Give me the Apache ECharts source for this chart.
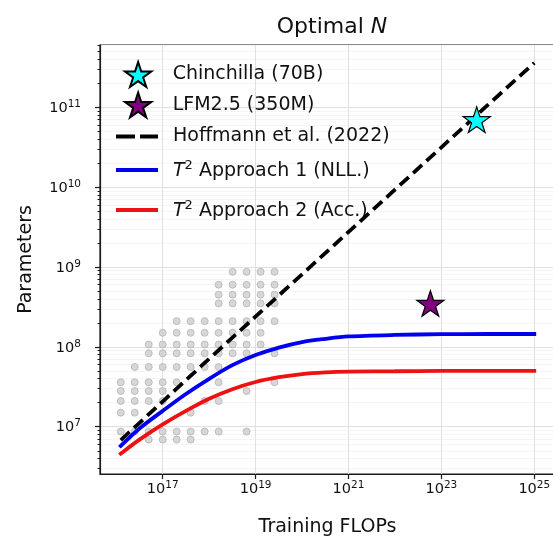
<!DOCTYPE html>
<html>
<head>
<meta charset="utf-8">
<script src="https://cdn.jsdelivr.net/npm/echarts@6/dist/echarts.min.js"></script>
<style>
  html, body { margin: 0; padding: 0; background: #ffffff; }
  #chart { width: 553px; height: 541px; }
</style>
</head>
<body>
<div id="chart"></div>
<script>
// ---------------- data (real units) ----------------
// grey dots: model sizes (parameters) and the training budgets (FLOPs) used for each size
const runSizes = [8.7e8, 6.0e8, 4.5e8, 3.5e8, 2.1e8, 1.5e8, 1.07e8, 8.3e7, 5.6e7, 3.6e7, 2.8e7, 2.1e7, 1.5e7, 8.7e6, 6.9e6];
const runBudgets = [
  [3.2e18, 6.4e18, 1.28e19, 2.56e19],
  [1.6e18, 3.2e18, 6.4e18, 1.28e19, 2.56e19],
  [1.6e18, 3.2e18, 6.4e18, 1.28e19, 2.56e19],
  [1.6e18, 3.2e18, 6.4e18, 1.28e19, 2.56e19],
  [2e17, 4e17, 8e17, 1.6e18, 3.2e18, 6.4e18, 1.28e19, 2.56e19],
  [1e17, 2e17, 4e17, 8e17, 1.6e18, 3.2e18, 6.4e18, 1.28e19],
  [5e16, 1e17, 2e17, 4e17, 8e17, 1.6e18, 3.2e18, 6.4e18, 1.28e19],
  [5e16, 1e17, 2e17, 4e17, 8e17, 1.6e18, 3.2e18, 6.4e18, 2.56e19],
  [2.5e16, 5e16, 1e17, 2e17, 4e17, 8e17, 1.6e18],
  [1.25e16, 2.5e16, 5e16, 1e17, 2e17, 1.6e18, 2.56e19],
  [1.25e16, 2.5e16, 5e16, 1e17, 6.4e18],
  [1.25e16, 2.5e16, 5e16, 1e17, 8e17, 1.6e18],
  [1.25e16, 2.5e16, 4e17],
  [1.25e16, 2.5e16, 5e16, 1e17, 2e17, 4e17, 8e17, 1.6e18, 6.4e18],
  [5e16, 1e17, 2e17, 4e17]
];

// fitted curves
const curveFlops      = [1.25e16, 3.16e16, 1e17, 3.16e17, 1e18, 3.16e18, 1e19, 3.16e19, 1e20, 3.16e20, 1e21, 1e22, 1e23, 1e24, 1e25];
const approach1Params = [5.75e6, 9.5e6, 1.58e7, 2.57e7, 3.98e7, 5.9e7, 7.9e7, 9.8e7, 1.15e8, 1.26e8, 1.35e8, 1.41e8, 1.44e8, 1.45e8, 1.45e8];
const approach2Params = [4.6e6, 6.9e6, 1.07e7, 1.58e7, 2.24e7, 2.95e7, 3.63e7, 4.17e7, 4.57e7, 4.79e7, 4.9e7, 4.95e7, 5.0e7, 5.0e7, 5.0e7];

const hoffmannFlops  = [1.25e16, 1e18, 1e20, 1e22, 1e24, 1e25];
const hoffmannParams = [6.8e6, 7.1e7, 8.1e8, 9.3e9, 1.07e11, 3.6e11];

const chinchilla = [5.76e23, 7.0e10];
const lfm = [5.8e22, 3.5e8];

// tick labels
const xTickValues = [1e17, 1e19, 1e21, 1e23, 1e25];
const yTickValues = [1e7, 1e8, 1e9, 1e10, 1e11];

// ---------------- helpers ----------------
const L = Math.log10;
const FONT = 'DejaVu Sans';
const xMin = 15.65, xMax = 25.446;
const yMin = 6.408, yMax = 11.78;

const runPoints = [];
runSizes.forEach((n, i) => runBudgets[i].forEach(c => runPoints.push([L(c), L(n)])));

const yMinor = [];
for (let e = 6; e <= 11; e++) {
  for (let k = 2; k <= 9; k++) {
    const v = L(k) + e;
    if (v > yMin && v < yMax) yMinor.push(v);
  }
}

const tickRich = {
  b: { fontSize: 14.5, fontFamily: FONT, color: '#111', lineHeight: 17, padding: [4, 0, 0, 0], verticalAlign: 'bottom' },
  s: { fontSize: 10.5, fontFamily: FONT, color: '#111', lineHeight: 12, verticalAlign: 'top' }
};
const powFmt = v => '{b|10}{s|' + Math.round(v) + '}';

const STAR = 'path://M50,0 L61.23,34.55 L97.55,34.55 L68.17,55.9 L79.39,90.45 L50,69.1 L20.61,90.45 L31.83,55.9 L2.45,34.55 L38.77,34.55 Z';

const legendText = {
  fontSize: 19, fontFamily: FONT, color: '#111', fontWeight: 'normal',
  rich: {
    it: { fontSize: 19, fontFamily: FONT, fontStyle: 'italic', color: '#111', lineHeight: 22, verticalAlign: 'bottom', padding: [4, 0, 0, 0] },
    sup: { fontSize: 13, fontFamily: FONT, color: '#111', lineHeight: 14, verticalAlign: 'top' },
    t: { fontSize: 19, fontFamily: FONT, color: '#111', lineHeight: 22, verticalAlign: 'bottom', padding: [4, 0, 0, 0] }
  }
};
const mkLegend = (name, extra) => Object.assign({
  orient: 'horizontal', padding: 0, itemWidth: 42, selectedMode: false, data: [name],
  textStyle: Object.assign({}, legendText, { padding: [0, 0, 0, 10] })
}, extra);
const t2fmt = name => '{it|T}{sup|2}{t| ' + name.replace('T² ', '') + '}';

const option = {
  animation: false,
  backgroundColor: '#ffffff',
  title: {
    text: '{a|Optimal }{b|N}',
    left: 327, top: 11, textAlign: 'center',
    textStyle: {
      fontWeight: 'normal',
      rich: {
        a: { fontSize: 22, fontFamily: FONT, color: '#111', fontWeight: 'normal' },
        b: { fontSize: 22, fontFamily: FONT, color: '#111', fontStyle: 'italic', fontWeight: 'normal' }
      }
    }
  },
  grid: {
    left: 100, top: 45, width: 455, height: 429, outerBoundsMode: 'none', containLabel: false,
    show: true, borderColor: '#1a1a1a', borderWidth: 1.2, backgroundColor: 'transparent'
  },
  legend: [
    mkLegend('Chinchilla (70B)', { left: 124, top: 61, itemHeight: 25, itemWidth: 27, textStyle: Object.assign({}, legendText, { padding: [0, 0, 0, 16] }) }),
    mkLegend('LFM2.5 (350M)', { left: 124, top: 91.5, itemHeight: 25, itemWidth: 27, textStyle: Object.assign({}, legendText, { padding: [0, 0, 0, 16] }) }),
    mkLegend('Hoffmann et al. (2022)', { left: 116, top: 127, itemHeight: 4, icon: 'path://M0,0H19V4H0Z M24,0H42V4H24Z' }),
    mkLegend('T² Approach 1 (NLL.)', { left: 116, top: 158, itemHeight: 4, icon: 'rect', formatter: t2fmt }),
    mkLegend('T² Approach 2 (Acc.)', { left: 116, top: 198, itemHeight: 4, icon: 'rect', formatter: t2fmt })
  ],
  xAxis: {
    type: 'value', min: xMin, max: xMax,
    name: 'Training FLOPs', nameLocation: 'middle', nameGap: 44,
    nameTextStyle: { fontSize: 19, fontFamily: FONT, color: '#111' },
    axisLine: { show: true, onZero: false, lineStyle: { color: '#1a1a1a', width: 1.2 } },
    axisTick: { show: true, length: 5, customValues: xTickValues.map(L), lineStyle: { color: '#1a1a1a', width: 1.2 } },
    axisLabel: { customValues: xTickValues.map(L), margin: 6, formatter: powFmt, rich: tickRich },
    splitLine: { show: true, lineStyle: { color: '#e0e0e0', width: 1 } }
  },
  yAxis: [
    {
      type: 'value', min: yMin, max: yMax, position: 'left',
      name: 'Parameters', nameLocation: 'middle', nameGap: 64,
      nameTextStyle: { fontSize: 19, fontFamily: FONT, color: '#111' },
      axisLine: { show: true, onZero: false, lineStyle: { color: '#1a1a1a', width: 1.2 } },
      axisTick: { show: true, length: 5, customValues: yTickValues.map(L), lineStyle: { color: '#1a1a1a', width: 1.2 } },
      axisLabel: { customValues: yTickValues.map(L), margin: 19, formatter: powFmt, rich: tickRich },
      splitLine: { show: true, lineStyle: { color: '#e0e0e0', width: 1 } }
    },
    {
      type: 'value', min: yMin, max: yMax, position: 'left',
      axisLine: { show: false },
      axisTick: { show: true, length: 2.5, customValues: yMinor, lineStyle: { color: '#1a1a1a', width: 1 } },
      axisLabel: { show: false },
      splitLine: { show: true, lineStyle: { color: '#f5f5f5', width: 1 } }
    }
  ],
  series: [
    {
      name: 'runs', type: 'scatter', silent: true, z: 2,
      symbol: 'circle', symbolSize: 7,
      itemStyle: { color: '#cdcdcd', borderColor: '#b4b4b4', borderWidth: 1 },
      data: runPoints
    },
    {
      name: 'Hoffmann et al. (2022)', type: 'line', z: 4, symbol: 'none', silent: true,
      lineStyle: { color: '#000', width: 3.8, type: [12, 6], cap: 'butt' },
      itemStyle: { color: '#000' },
      data: hoffmannFlops.map((c, i) => [L(c), L(hoffmannParams[i])])
    },
    {
      name: 'T² Approach 1 (NLL.)', type: 'line', z: 3, symbol: 'none', silent: true,
      smooth: 0.3,
      lineStyle: { color: '#0000ee', width: 3.8, cap: 'square' },
      itemStyle: { color: '#0000ee' },
      data: curveFlops.map((c, i) => [L(c), L(approach1Params[i])])
    },
    {
      name: 'T² Approach 2 (Acc.)', type: 'line', z: 3, symbol: 'none', silent: true,
      smooth: 0.3,
      lineStyle: { color: '#ee1111', width: 3.8, cap: 'square' },
      itemStyle: { color: '#ee1111' },
      data: curveFlops.map((c, i) => [L(c), L(approach2Params[i])])
    },
    {
      name: 'Chinchilla (70B)', type: 'scatter', z: 6, silent: true,
      symbol: STAR, symbolSize: 27, symbolKeepAspect: true,
      itemStyle: { color: '#00ffff', borderColor: '#000', borderWidth: 1.2, opacity: 1 },
      data: [[L(chinchilla[0]), L(chinchilla[1])]]
    },
    {
      name: 'LFM2.5 (350M)', type: 'scatter', z: 6, silent: true,
      symbol: STAR, symbolSize: 27, symbolKeepAspect: true,
      itemStyle: { color: '#800080', borderColor: '#000', borderWidth: 1.2, opacity: 1 },
      data: [[L(lfm[0]), L(lfm[1])]]
    }
  ]
};

const chart = echarts.init(document.getElementById('chart'), null, { renderer: 'canvas' });
chart.setOption(option);
</script>
</body>
</html>
